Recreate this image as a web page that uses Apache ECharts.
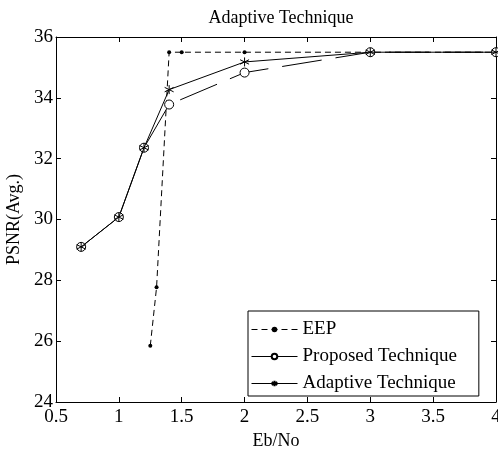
<!DOCTYPE html>
<html>
<head>
<meta charset="utf-8">
<script src="https://cdn.jsdelivr.net/npm/echarts@6/dist/echarts.min.js"></script>
<style>
  html, body { margin: 0; padding: 0; background: #fff; }
  #chart { width: 498px; height: 449px; }
</style>
</head>
<body>
<div id="chart"></div>
<script>
// data
var eepX = [1.25, 1.3, 1.4, 1.5, 2, 3, 4];
var eepY = [25.85, 27.77, 35.5, 35.5, 35.5, 35.5, 35.5];

var propX = [0.7, 1, 1.2, 1.4, 2, 3, 4];
var propY = [29.1, 30.08, 32.36, 33.78, 34.83, 35.5, 35.5];

var adaptX = [0.7, 1, 1.2, 1.4, 2, 3, 4];
var adaptY = [29.1, 30.08, 32.36, 34.27, 35.18, 35.5, 35.5];

var xTicks = [0.5, 1, 1.5, 2, 2.5, 3, 3.5, 4];
var yTicks = [24, 26, 28, 30, 32, 34, 36];

var font = 'Liberation Serif';
var star = 'path://M0,-10L0,10M-8.66,-5L8.66,5M-8.66,5L8.66,-5';

function pairs(xs, ys) {
    return xs.map(function (x, i) { return [x, ys[i]]; });
}

// proposed curve: solid up to 1.4, long dashes after it
var propSplit = 3;
var propTail = pairs(propX.slice(propSplit), propY.slice(propSplit));
propTail[0] = { value: propTail[0], symbol: 'none' };

var axisCommon = {
    axisLine: { lineStyle: { color: '#000', width: 1 } },
    axisTick: { inside: true, length: 5, lineStyle: { color: '#000' } },
    splitLine: { show: false }
};

var circleStyle = { color: '#fff', borderColor: '#000', borderWidth: 1 };

var chart = echarts.init(document.getElementById('chart'));
chart.setOption({
    animation: false,
    backgroundColor: '#fff',
    textStyle: { fontFamily: font, color: '#000' },
    title: {
        text: 'Adaptive Technique',
        left: 276,
        textAlign: 'center',
        top: 4,
        textStyle: { fontFamily: font, fontSize: 18, fontWeight: 'normal', color: '#000' }
    },
    grid: { left: 56, right: 2, top: 37, bottom: 47, outerBoundsMode: 'none' },
    xAxis: [
        Object.assign({
            type: 'value', min: xTicks[0], max: xTicks[xTicks.length - 1], interval: 0.5,
            name: 'Eb/No', nameLocation: 'middle', nameGap: 28,
            nameTextStyle: { fontFamily: font, fontSize: 18, color: '#000' },
            axisLabel: { fontFamily: font, fontSize: 19, color: '#000', margin: 6 }
        }, axisCommon),
        Object.assign({
            type: 'value', position: 'top', min: xTicks[0], max: xTicks[xTicks.length - 1], interval: 0.5,
            axisLabel: { show: false }
        }, axisCommon)
    ],
    yAxis: [
        Object.assign({
            type: 'value', min: yTicks[0], max: yTicks[yTicks.length - 1], interval: 2,
            name: 'PSNR(Avg.)', nameLocation: 'middle', nameGap: 18,
            nameTextStyle: { fontFamily: font, fontSize: 18, color: '#000' },
            axisLabel: { fontFamily: font, fontSize: 19, color: '#000', margin: 3 }
        }, axisCommon),
        Object.assign({
            type: 'value', position: 'right', min: yTicks[0], max: yTicks[yTicks.length - 1], interval: 2,
            axisLabel: { show: false }
        }, axisCommon)
    ],
    legend: {
        orient: 'vertical',
        left: 248,
        top: 311,
        data: [
            { name: 'EEP', itemStyle: { color: '#000' } },
            { name: 'Proposed Technique' },
            { name: 'Adaptive Technique' }
        ],
        itemWidth: 46,
        itemHeight: 7,
        itemGap: 8,
        padding: [9, 22, 3, 3],
        borderColor: '#000',
        borderWidth: 1,
        backgroundColor: '#fff',
        lineStyle: { width: 1 },
        textStyle: { fontFamily: font, fontSize: 19, color: '#000' }
    },
    series: [
        {
            name: 'EEP',
            type: 'line',
            data: pairs(eepX, eepY),
            symbol: 'circle',
            symbolSize: 4,
            itemStyle: { color: '#000' },
            lineStyle: { color: '#000', width: 1, type: [6, 4] },
            z: 2
        },
        {
            name: 'Proposed Technique',
            type: 'line',
            data: pairs(propX.slice(0, propSplit + 1), propY.slice(0, propSplit + 1)),
            symbol: 'circle',
            symbolSize: 9,
            itemStyle: circleStyle,
            lineStyle: { color: '#000', width: 1 },
            z: 3
        },
        {
            name: 'Proposed Technique',
            type: 'line',
            data: propTail,
            symbol: 'circle',
            symbolSize: 9,
            itemStyle: circleStyle,
            lineStyle: { color: '#000', width: 1, type: [40, 14], dashOffset: -12 },
            z: 3
        },
        {
            name: 'Adaptive Technique',
            type: 'line',
            data: pairs(adaptX, adaptY),
            symbol: star,
            symbolSize: 9,
            itemStyle: { color: 'transparent', borderColor: '#000', borderWidth: 1 },
            lineStyle: { color: '#000', width: 1 },
            z: 4
        }
    ]
});
</script>
</body>
</html>
